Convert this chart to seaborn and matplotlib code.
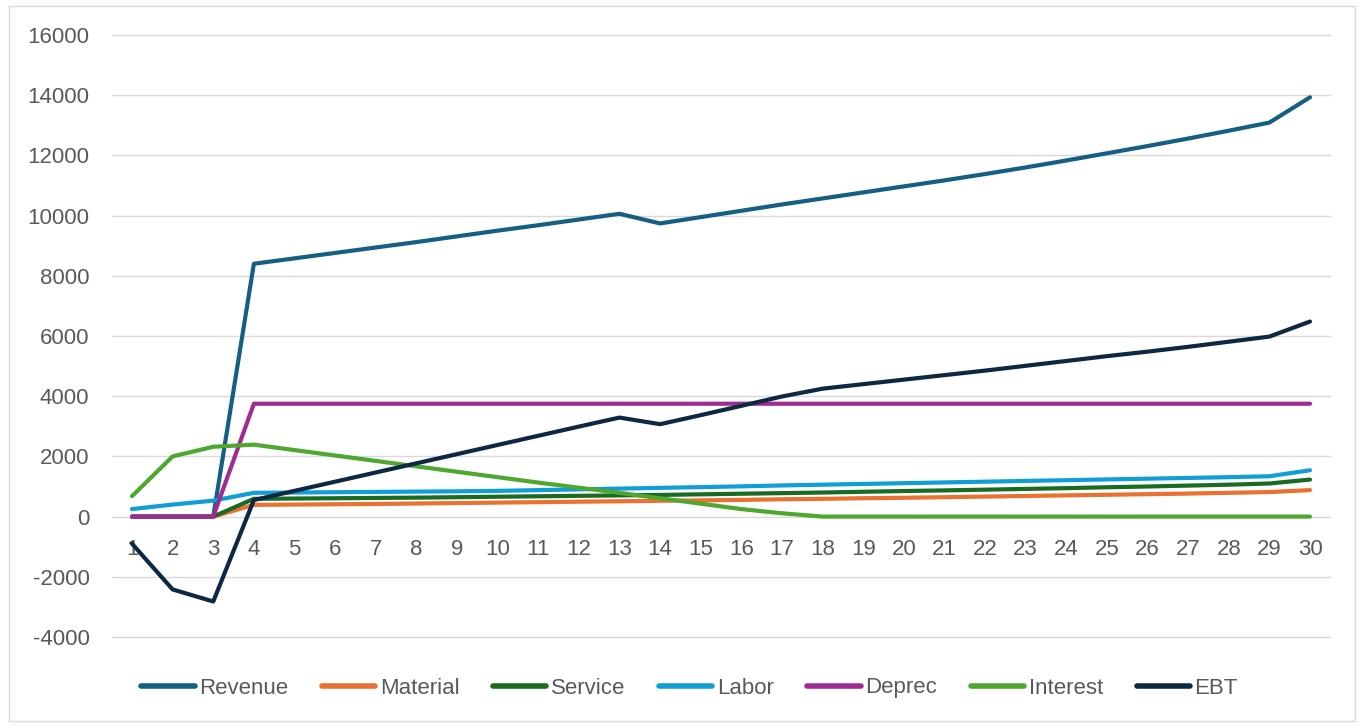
import matplotlib
matplotlib.use("Agg")
import matplotlib.pyplot as plt
import seaborn as sns
import pandas as pd
from matplotlib.patches import Rectangle

years = list(range(1, 31))
revenue = [0, 0, 0, 8400, 8580, 8760, 8940, 9120, 9310, 9500, 9680, 9870, 10060, 9740,
           9950, 10160, 10370, 10570, 10770, 10970, 11170, 11380, 11600, 11830, 12070,
           12310, 12560, 12820, 13090, 13930]
material = [0, 0, 0, 390, 400, 410, 420, 435, 450, 465, 480, 495, 510, 525,
            540, 555, 575, 590, 610, 625, 645, 665, 685, 705, 725,
            745, 765, 790, 815, 880]
service = [0, 0, 0, 590, 600, 610, 620, 630, 645, 660, 675, 690, 705, 720,
           740, 760, 780, 800, 825, 850, 870, 895, 920, 945, 975,
           1000, 1030, 1060, 1100, 1230]
labor = [250, 400, 530, 790, 800, 810, 820, 830, 840, 855, 880, 905, 930, 955,
         980, 1005, 1035, 1060, 1085, 1110, 1135, 1160, 1185, 1210, 1235,
         1260, 1285, 1310, 1340, 1540]
deprec = [0, 0, 0] + [3750] * 27
interest = [680, 2000, 2320, 2390, 2210, 2030, 1850, 1670, 1490, 1310, 1130, 960, 790, 610,
            430, 250, 110, 0, 0, 0, 0, 0, 0, 0, 0, 0, 0, 0, 0, 0]
ebt = [-900, -2420, -2820, 550, 855, 1160, 1465, 1770, 2075, 2380, 2685, 2990, 3290, 3070,
       3370, 3680, 3990, 4250, 4400, 4550, 4700, 4850, 5010, 5170, 5330,
       5480, 5640, 5810, 5980, 6480]

series_names = ["Revenue", "Material", "Service", "Labor", "Deprec", "Interest", "EBT"]
series_vals = [revenue, material, service, labor, deprec, interest, ebt]
colors = ["#156082", "#E97132", "#196B24", "#0F9ED5", "#A02B93", "#4EA72E", "#0E2841"]
yticks = list(range(-4000, 16001, 2000))

df = pd.concat([pd.DataFrame({"Year": years, "Value": v, "Series": n})
                for n, v in zip(series_names, series_vals)], ignore_index=True)

sns.set_theme(style="white")
plt.rcParams["font.family"] = ["Liberation Sans", "DejaVu Sans"]

W, H = 1364, 727
fig = plt.figure(figsize=(W / 100, H / 100), dpi=100)
ax = fig.add_axes([111.7 / W, 1 - 637 / H, (1330.3 - 111.7) / W, (637 - 35) / H])

sns.lineplot(data=df, x="Year", y="Value", hue="Series", hue_order=series_names,
             palette=colors, linewidth=3.0, ax=ax, legend=False, sort=False,
             solid_capstyle="round", solid_joinstyle="round")

ax.set_xlim(0.5, 30.5)
ax.set_ylim(-4000, 16000)
ax.set_yticks(yticks)
ax.set_yticklabels([str(t) for t in yticks])
ax.set_xticks(years)
ax.set_xticklabels([str(y) for y in years])
ax.set_xlabel("")
ax.set_ylabel("")

ax.set_axisbelow(True)
ax.grid(axis="y", color="#D9D9D9", linewidth=1.0)
ax.grid(axis="x", visible=False)
for gl in ax.yaxis.get_gridlines():
    gl.set_clip_on(False)
for s in ax.spines.values():
    s.set_visible(False)
ax.spines["bottom"].set_position(("data", 0))
ax.tick_params(axis="both", length=0, labelsize=16, labelcolor="#595959")
ax.tick_params(axis="y", pad=16)
ax.tick_params(axis="x", pad=16)
for lab in ax.get_yticklabels():
    lab.set_horizontalalignment("right")
ax.xaxis.set_zorder(0.5)
ax.yaxis.set_zorder(0.5)

handles = [plt.Line2D([], [], color=c, linewidth=4.0, solid_capstyle="round") for c in colors]
leg = fig.legend(handles, series_names, loc="center", bbox_to_anchor=(689.5 / W, 1 - 688 / H),
                 ncol=7, frameon=False, fontsize=16, handlelength=2.4, handletextpad=0.2,
                 columnspacing=1.52, labelcolor="#595959")

fig.patches.append(Rectangle((9 / W, 1 - 721 / H), (1355 - 9) / W, (721 - 6) / H,
                             transform=fig.transFigure, fill=False, edgecolor="#D9D9D9",
                             linewidth=1.0))

fig.savefig("out.png", dpi=100, facecolor="white")
